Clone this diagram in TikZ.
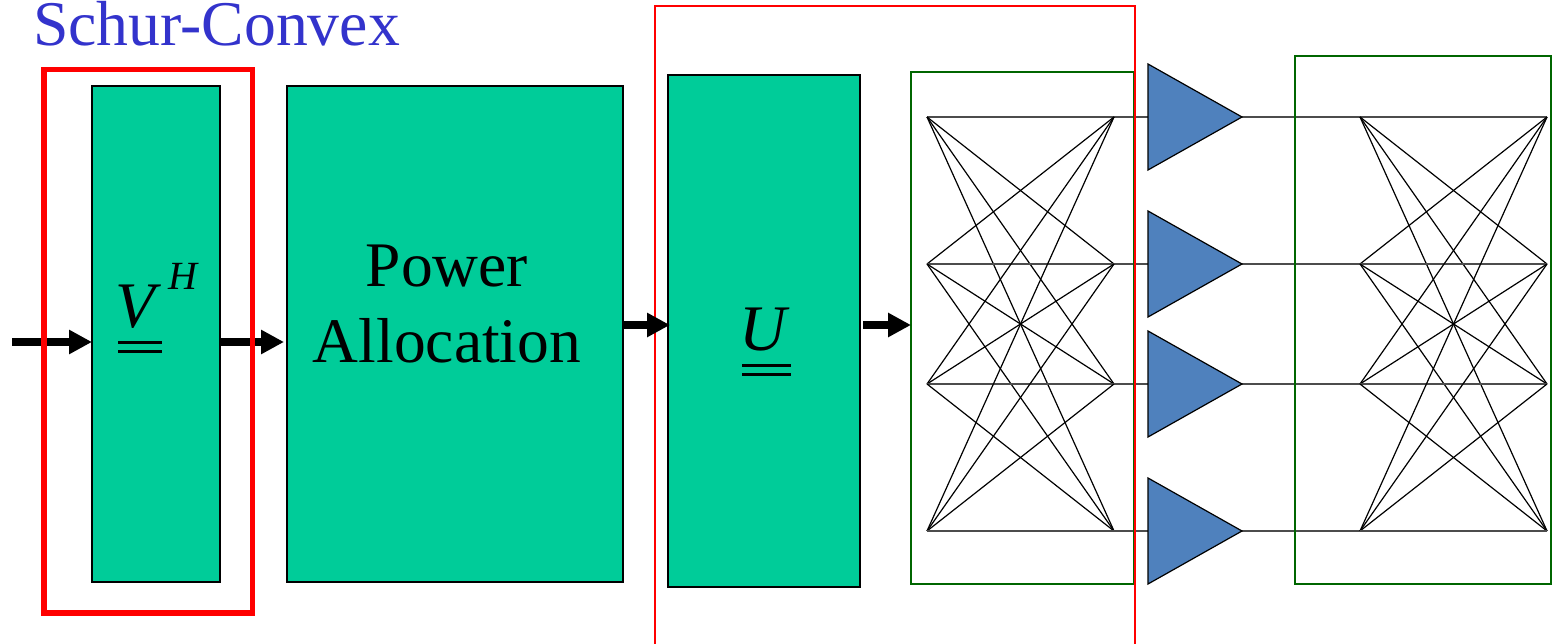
\documentclass[tikz,border=0pt]{standalone}
\usepackage{fontspec}
\setmainfont{Liberation Serif}
\usetikzlibrary{arrows.meta,calc}
\definecolor{tealbox}{HTML}{00CC99}
\definecolor{ampblue}{HTML}{4F81BD}
\definecolor{netgreen}{HTML}{006600}
\definecolor{titleblue}{HTML}{3333CC}
\tikzset{
  block/.style={draw=black,line width=1.8pt,fill=tealbox,inner sep=0pt,outer sep=0pt},
  bigarrow/.style={line width=8pt,-{Triangle[length=23pt,width=23pt]}},
  mathtxt/.style={inner sep=0pt,anchor=base west,font=\fontsize{65}{65}\selectfont\itshape},
  suptxt/.style={inner sep=0pt,anchor=base west,font=\fontsize{40}{40}\selectfont\itshape},
  bigtxt/.style={inner sep=0pt,font=\fontsize{63.5}{76}\selectfont,align=center},
  dbl/.style={line width=3pt},
  netbox/.style={draw=netgreen,line width=1.6pt},
  hot/.style={draw=red,line width=1.6pt},
  wire/.style={draw=black,line width=1.2pt},
  flatwire/.style={draw=black!70,line width=1.4pt},
  amp/.style={draw=black,line width=1.2pt,fill=ampblue,line join=miter},
}
\begin{document}
\begin{tikzpicture}[x=1pt,y=-1pt]
\useasboundingbox (0,0) rectangle (1552,644);
\clip (0,0) rectangle (1552,644);
% title
\node[inner sep=0pt,anchor=base west,text=titleblue,font=\fontsize{63.7}{64}\selectfont] (title) at (33,45.5) {Schur-Convex};
% blocks
\node[block,minimum width=128pt,minimum height=496pt] (vbox) at (156,334) {};
\node[block,minimum width=336pt,minimum height=496pt] (power) at (455,334) {};
\node[block,minimum width=192pt,minimum height=512pt] (ubox) at (764,331) {};
% block labels
\node[mathtxt] (vlab) at (115,327) {V};
\node[suptxt] (hlab) at (168,290) {H};
\node[mathtxt] (ulab) at (739,350) {U};
\node[bigtxt] (plab) at (447,304.5) {Power\\Allocation};
\coordinate (va) at (118,342); \coordinate (vb) at (162,342);
\coordinate (vc) at (118,351); \coordinate (vd) at (162,351);
\coordinate (ua) at (742,365); \coordinate (ub) at (791,365);
\coordinate (uc) at (742,374); \coordinate (ud) at (791,374);
\draw[dbl] (va) -- (vb) (vc) -- (vd) (ua) -- (ub) (uc) -- (ud);
% first arrows, under the thick red box
\coordinate (inA) at (12,342);
\coordinate (inB) at (12,325);
\draw[bigarrow] (inA) -- (inA -| vbox.west);
\draw[bigarrow,shorten >=3pt] (inA -| vbox.east) -- (inA -| power.west);
\draw[draw=red,line width=5.5pt] (44,69.5) rectangle (252.5,613);
% network points
\foreach \n/\y in {1/117,2/264,3/384,4/531}{
  \coordinate (a\n) at (927,\y);
  \coordinate (b\n) at (1114,\y);
  \coordinate (c\n) at (1360,\y);
  \coordinate (d\n) at (1547,\y);
  \coordinate (ti\n) at (1148,\y);
  \coordinate (to\n) at (1242,\y);
}
% wires
\foreach \n in {1,2,3,4}{
  \draw[flatwire] (b\n) -- (ti\n);
  \draw[flatwire] (to\n) -- (c\n);
  \foreach \m in {1,2,3,4}{
    \ifnum\n=\m
      \draw[flatwire] (a\n) -- (b\m);
      \draw[flatwire] (c\n) -- (d\m);
    \else
      \draw[wire] (a\n) -- (b\m);
      \draw[wire] (c\n) -- (d\m);
    \fi
  }
}
% boxes
\draw[netbox] (911,72) rectangle (1134,584);
\draw[netbox] (1295,56) rectangle (1551,584);
\draw[hot] (655,644) -- (655,6) -- (1135,6) -- (1135,644);
% amplifiers
\foreach \n in {1,2,3,4}{
  \draw[amp] (ti\n) ++(0,-53) -- (to\n) -- ($(ti\n)+(0,53)$) -- cycle;
}
% later arrows
\draw[bigarrow,shorten >=-2pt] (inB -| power.east) -- (inB -| ubox.west);
\coordinate (outB) at (863,325);
\coordinate (netin) at (911,325);
\draw[bigarrow] (outB) -- (netin);
\end{tikzpicture}
\end{document}
